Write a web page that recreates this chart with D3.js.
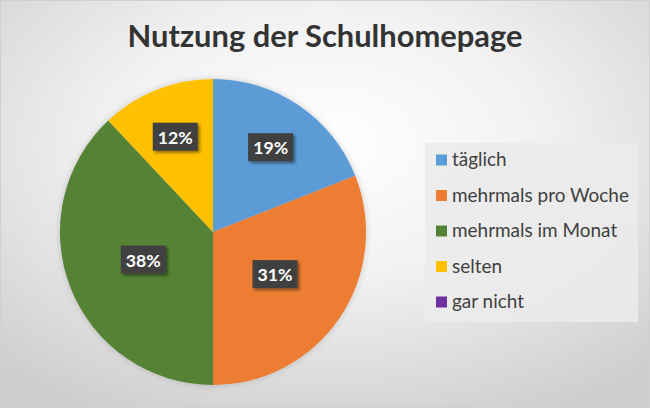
<!DOCTYPE html>
<html><head><meta charset="utf-8">
<script src="https://cdn.jsdelivr.net/npm/d3@7"></script>
<style>body{margin:0;background:#fff}svg{display:block}</style>
</head><body>
<svg id="c" width="650" height="408"></svg>
<script>
const title = "Nutzung der Schulhomepage";
const categories = ["täglich","mehrmals pro Woche","mehrmals im Monat","selten","gar nicht"];
const values = [19,31,38,12,0];
const colors = ["#5b9bd5","#ed7d31","#548235","#ffc000","#7030a0"];

const W=650,H=408, FONT="Lato, 'Open Sans', sans-serif";
const svg=d3.select("#c");
const defs=svg.append("defs");
const rg=defs.append("radialGradient").attr("id","bg").attr("cx","0.5").attr("cy","0.35").attr("r","0.75");
rg.append("stop").attr("offset","0").attr("stop-color","#ffffff");
rg.append("stop").attr("offset","0.45").attr("stop-color","#f1f1f1");
rg.append("stop").attr("offset","1").attr("stop-color","#cdcdcd");
const sh=defs.append("filter").attr("id","sh").attr("x","-30%").attr("y","-30%").attr("width","170%").attr("height","170%");
sh.append("feDropShadow").attr("dx",2).attr("dy",2).attr("stdDeviation",1.8).attr("flood-color","#000").attr("flood-opacity",0.45);
const psh=defs.append("filter").attr("id","psh").attr("x","-20%").attr("y","-20%").attr("width","140%").attr("height","140%");
psh.append("feDropShadow").attr("dx",0).attr("dy",0).attr("stdDeviation",3).attr("flood-color","#000").attr("flood-opacity",0.18);

svg.append("rect").attr("width",W).attr("height",H).attr("fill","url(#bg)");
svg.append("rect").attr("x",0.5).attr("y",0.5).attr("width",W-1).attr("height",H-1).attr("fill","none").attr("stroke","#d0d0d0");

function fit(sel,target){const w=sel.node().getComputedTextLength();const fs=parseFloat(sel.attr("font-size"));sel.attr("font-size",fs*target/w);}

const t=svg.append("text").attr("x",325).attr("y",47).attr("text-anchor","middle")
 .attr("font-family",FONT).attr("font-weight","bold").attr("font-size",26).attr("fill","#333333").text(title);
fit(t,395);

const cx=213,cy=232,R=153;
const data=categories.map((c,i)=>({cat:c,value:values[i],color:colors[i]}));
const pie=d3.pie().value(d=>d.value).sort(null);
const arcs=pie(data);
const arc=d3.arc().innerRadius(0).outerRadius(R);
const g=svg.append("g").attr("transform",`translate(${cx},${cy})`);
g.append("g").attr("filter","url(#psh)").selectAll("path").data(arcs.filter(a=>a.value>0)).join("path")
 .attr("d",arc).attr("fill",d=>d.data.color);

const total=d3.sum(values);
arcs.filter(a=>a.value>0).forEach(a=>{
  const frac=a.value/total;
  const lr=frac<0.25?R*0.67:R*0.49;
  const c=d3.arc().innerRadius(lr).outerRadius(lr).centroid(a);
  const lg=g.append("g").attr("transform",`translate(${c[0]},${c[1]})`);
  lg.append("rect").attr("x",-22.5).attr("y",-14).attr("width",45).attr("height",28).attr("fill","#404040").attr("filter","url(#sh)");
  const tx=lg.append("text").attr("text-anchor","middle").attr("y",7).attr("font-family",FONT).attr("font-weight","bold")
   .attr("font-size",18).attr("fill","#fff").text(Math.round(frac*100)+"%");
  fit(tx,35);
});

// legend
const lgd=svg.append("g");
lgd.append("rect").attr("x",425).attr("y",143).attr("width",213).attr("height",179).attr("fill","#ebebeb").attr("opacity",0.9);
const ly=d3.scalePoint().domain(categories).range([160,302]);
categories.forEach((c,i)=>{
  lgd.append("rect").attr("x",436).attr("y",ly(c)-5.5).attr("width",11).attr("height",11).attr("fill",colors[i]);
  const tx=lgd.append("text").attr("x",452).attr("y",ly(c)+6).attr("font-family",FONT).attr("font-size",17).attr("fill","#404040").text(c);
  if(i===1) fit(tx,177);
});
const fs=lgd.selectAll("text").filter((d,i)=>i===1).attr("font-size");
lgd.selectAll("text").attr("font-size",fs);
</script>
</body></html>
